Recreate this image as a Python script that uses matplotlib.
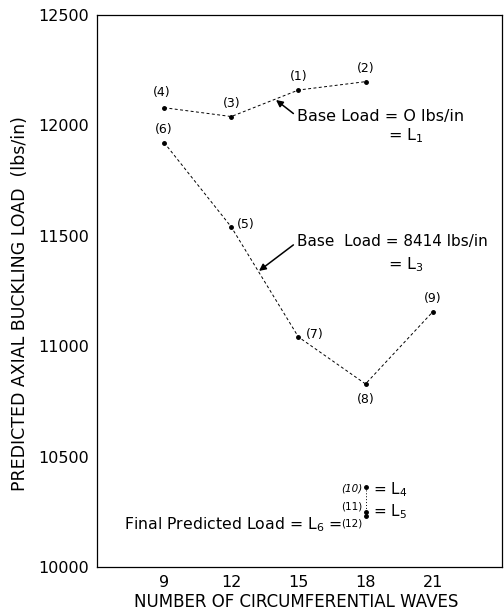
import matplotlib
matplotlib.use("Agg")
import matplotlib.pyplot as plt

# base load = 0 lbs/in (L1)
waves_l1 = [9, 12, 15, 18]
load_l1 = [12080, 12040, 12160, 12198]
ids_l1 = ["(4)", "(3)", "(1)", "(2)"]

# base load = 8414 lbs/in (L3)
waves_l3 = [9, 12, 15, 18, 21]
load_l3 = [11922, 11540, 11042, 10829, 11155]
ids_l3 = ["(6)", "(5)", "(7)", "(8)", "(9)"]

# final iterations at 18 waves
waves_fin = [18, 18, 18]
load_fin = [10364, 10251, 10231]
ids_fin = ["(10)", "(11)", "(12)"]

xticks = [9, 12, 15, 18, 21]
yticks = [10000, 10500, 11000, 11500, 12000, 12500]

plt.rcParams["font.family"] = "DejaVu Sans"

fig = plt.figure(figsize=(5.04, 6.11), dpi=100)
ax = fig.add_axes([0.1925, 0.072, 0.8035, 0.9035])

dash = (0, (3, 2.5))
ax.plot(waves_l1, load_l1, ls=dash, lw=0.7, color="black", marker="o", ms=2.5)
ax.plot(waves_l3, load_l3, ls=dash, lw=0.7, color="black", marker="o", ms=2.5)
ax.plot(waves_fin, load_fin, ls=(0, (1, 2)), lw=0.7, color="black",
        marker="o", ms=2.5)

# point labels
lbl = dict(fontsize=9, color="black")
offs_l1 = [(-0.1, 40), (0, 30), (0, 30), (0, 30)]
for x, y, s, (dx, dy) in zip(waves_l1, load_l1, ids_l1, offs_l1):
    ax.text(x + dx, y + dy, s, ha="center", va="bottom", **lbl)
offs_l3 = [(0, 30), (0.25, 10), (0.35, 10), (0, -40), (0, 30)]
has = ["center", "left", "left", "center", "center"]
vas = ["bottom", "center", "center", "top", "bottom"]
for x, y, s, (dx, dy), h, v in zip(waves_l3, load_l3, ids_l3, offs_l3, has, vas):
    ax.text(x + dx, y + dy, s, ha=h, va=v, **lbl)

fin_y = [10355, 10276, 10195]
for y, s in zip(fin_y, ids_fin):
    ax.text(17.88, y, s, ha="right", va="center", fontsize=7.5,
            style="italic" if s == "(10)" else "normal")

ax.text(18.35, 10350, "= L$_4$", fontsize=11, va="center")
ax.text(18.35, 10250, "= L$_5$", fontsize=11, va="center")
ax.text(16.95, 10190, "Final Predicted Load = L$_6$ =", fontsize=11.3,
        ha="right", va="center")

# base load annotations
arr = dict(arrowstyle="-|>", color="black", lw=1.1, mutation_scale=10,
           shrinkA=1, shrinkB=0, relpos=(0, 0.5))
ax.annotate("Base Load = O lbs/in", xy=(14.0, 12115), xytext=(14.95, 12040),
            fontsize=11.5, va="center", ha="left", arrowprops=arr)
ax.text(19.0, 11955, "= L$_1$", fontsize=11.5, va="center")
ax.annotate("Base  Load = 8414 lbs/in", xy=(13.24, 11341), xytext=(14.95, 11472),
            fontsize=11, va="center", ha="left", arrowprops=arr)
ax.text(19.0, 11368, "= L$_3$", fontsize=11.5, va="center")

ax.set_xlim(6, 24.1)
ax.set_ylim(10000, 12500)
ax.set_xticks(xticks)
ax.set_yticks(yticks)
ax.tick_params(length=0, labelsize=11.5)
ax.tick_params(axis="x", pad=6)
ax.tick_params(axis="y", pad=6)
for sp in ax.spines.values():
    sp.set_linewidth(0.9)

fig.text(296 / 504, 1 - 602 / 611, "NUMBER OF CIRCUMFERENTIAL WAVES",
         fontsize=12, ha="center", va="center")
fig.text(20 / 504, 1 - 304 / 611, "PREDICTED AXIAL BUCKLING LOAD  (lbs/in)",
         fontsize=12.5, ha="center", va="center", rotation=90)

fig.savefig("out.png", dpi=100)
